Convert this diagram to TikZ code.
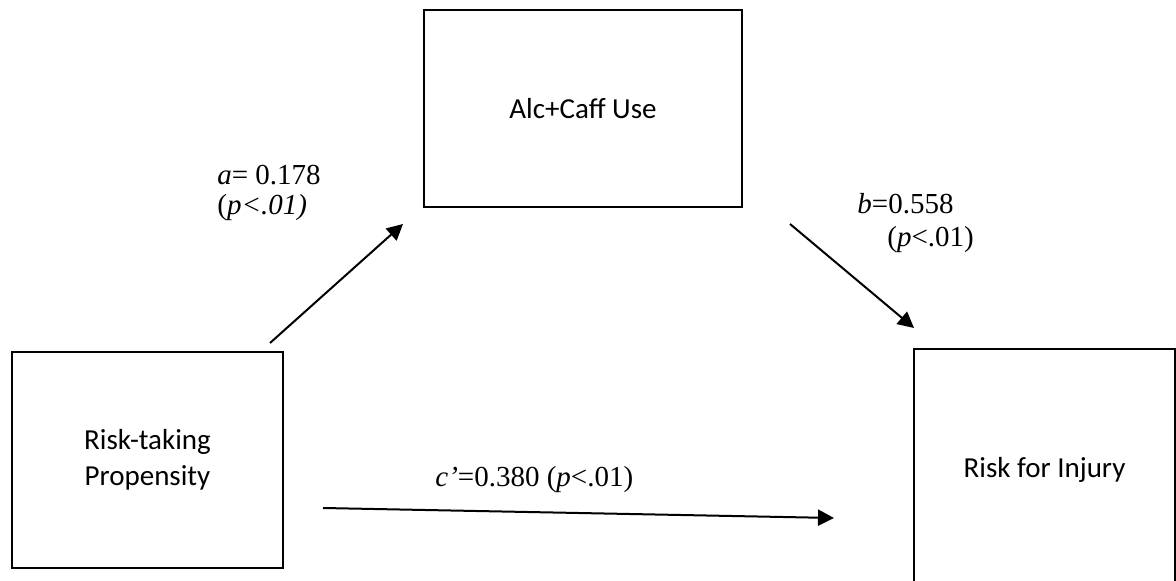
\documentclass[tikz,border=0pt]{standalone}
\usepackage{fontspec}
\setmainfont{Liberation Serif}
\newfontfamily\boxfont{Carlito}
\usetikzlibrary{arrows.meta}

\begin{document}
\begin{tikzpicture}[x=0.5pt, y=-0.5pt,
  varbox/.style={draw, line width=1.1pt, align=center, inner sep=0pt,
    font=\boxfont\fontsize{14.5}{18}\selectfont},
  effect/.style={-{Triangle[length=8pt, width=8pt]}, line width=1pt},
  coef/.style={anchor=base west, align=left, inner sep=0pt,
    font=\fontsize{14.5}{15}\selectfont}]
  \useasboundingbox (0,0) rectangle (1176,581);

  % Variables
  \node[varbox, minimum width=159pt, minimum height=98.5pt] (alc) at (583,108.5)
    {Alc+Caff Use};
  \node[varbox, minimum width=135.5pt, minimum height=108pt] (risk) at (147.5,460)
    {Risk-taking\\Propensity};
  \node[varbox, minimum width=130.5pt, minimum height=120.5pt] (injury) at (1044.5,469.5)
    {Risk for Injury};

  % Arrow ends (they stop short of the boxes)
  \coordinate (aStart) at (270,343);
  \coordinate (aEnd)   at (403,224);
  \coordinate (bStart) at (790,224);
  \coordinate (bEnd)   at (914,328);
  \coordinate (cStart) at (323,508);
  \coordinate (cEnd)   at (834,518);

  % Paths
  \draw[effect] (aStart) -- (aEnd);
  \draw[effect] (bStart) -- (bEnd);
  \draw[effect] (cStart) -- (cEnd);

  % Coefficients
  \node[coef] (alabel) at (217,215) {\textit{a}= 0.178\\(\textit{p<.01)}};
  \node[coef] (blabel) at (857,247)
    {\textit{b}=0.558\\[1.5pt]\hspace*{15pt}(\textit{p}<.01)};
  \node[coef] (clabel) at (435,487) {\textit{c'}=0.380 (\textit{p}<.01)};
\end{tikzpicture}
\end{document}
